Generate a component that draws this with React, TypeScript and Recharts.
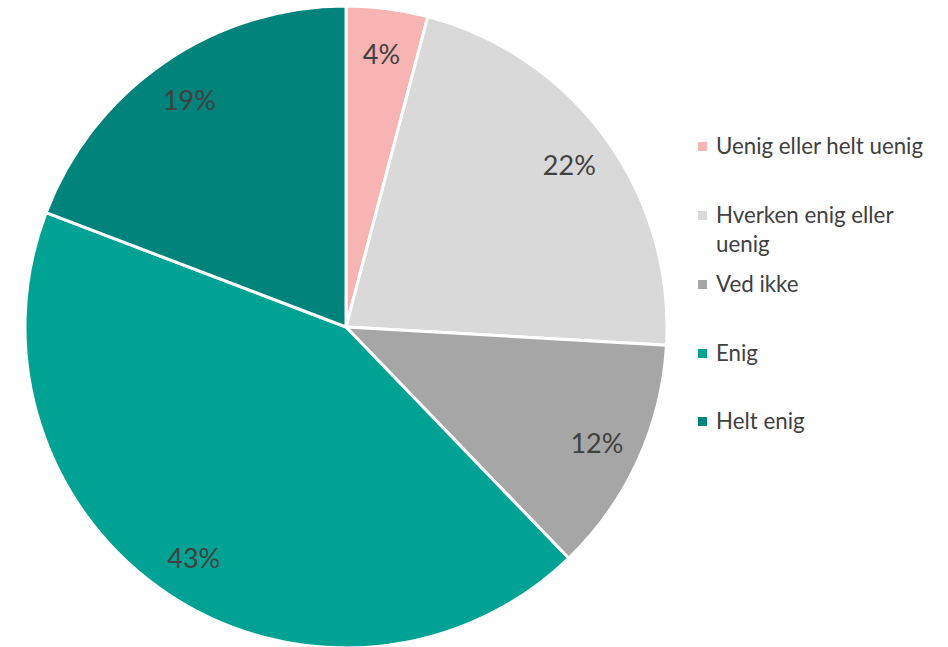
import { PieChart, Pie, Cell, Legend } from 'recharts';

const categories = ['Uenig eller helt uenig', 'Hverken enig eller uenig', 'Ved ikke', 'Enig', 'Helt enig'];
const values = [4.1, 21.8, 11.9, 43.0, 19.2];
const colors = ['#F8B3B3', '#D9D9D9', '#A6A6A6', '#00A393', '#00837A'];

const data = categories.map((name, i) => ({ name, value: values[i] }));

const RAD = Math.PI / 180;

function renderLabel(props: any) {
  const { cx, cy, midAngle, outerRadius, value } = props;
  const r = outerRadius * 0.86;
  const x = cx + r * Math.cos(-midAngle * RAD);
  const y = cy + r * Math.sin(-midAngle * RAD);
  return (
    <text x={x} y={y} fill="#404040" fontSize={27} fontFamily="Lato, sans-serif" textAnchor="middle" dominantBaseline="central">
      {`${Math.round(value)}%`}
    </text>
  );
}

function LegendContent() {
  const tops = [131, 200, 269, 338, 406];
  return (
    <div style={{ position: 'relative', width: 245, height: 647 }}>
      {categories.map((c, i) => (
        <div key={c} style={{ position: 'absolute', left: 0, top: tops[i], display: 'flex', alignItems: 'flex-start', fontFamily: 'Lato, sans-serif', fontSize: 22.3, color: '#404040', lineHeight: '29px', width: 245 }}>
          <span style={{ width: 9, height: 9, background: colors[i], marginTop: 11, marginRight: 9, flexShrink: 0 }} />
          <span style={{ width: 212 }}>{c}</span>
        </div>
      ))}
    </div>
  );
}

export default function App() {
  return (
    <div style={{ position: 'absolute', left: 0, top: 0, background: '#fff' }}>
      <PieChart width={948} height={647} margin={{ top: 0, right: 0, bottom: 0, left: 0 }}>
        <Pie
          data={data}
          dataKey="value"
          nameKey="name"
          cx={346}
          cy={327}
          outerRadius={321}
          startAngle={90}
          endAngle={-270}
          stroke="#ffffff"
          strokeWidth={3}
          label={renderLabel}
          labelLine={false}
          isAnimationActive={false}
        >
          {data.map((d, i) => (
            <Cell key={d.name} fill={colors[i]} />
          ))}
        </Pie>
        <Legend content={<LegendContent />} wrapperStyle={{ position: 'absolute', left: 698, top: 0, width: 245, height: 647 }} />
      </PieChart>
    </div>
  );
}
